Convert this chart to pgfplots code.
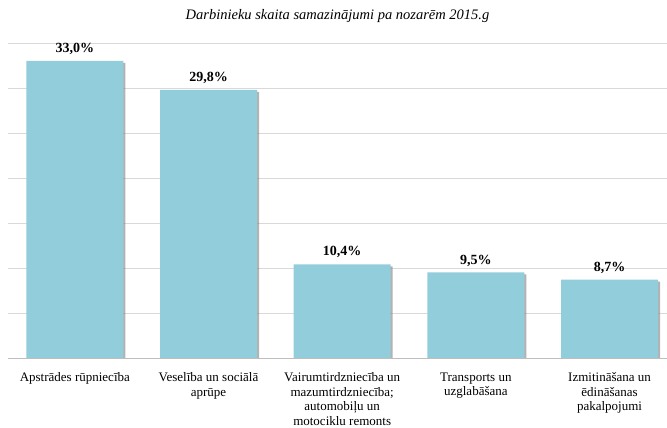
\documentclass[border=0pt]{standalone}
\usepackage{fontspec}
\setmainfont{Liberation Serif}
\usepackage{pgfplots}
\pgfplotsset{compat=1.18}
\usetikzlibrary{shadows}
\definecolor{barblue}{RGB}{146,205,220}
\definecolor{gridgray}{RGB}{217,217,217}
\definecolor{basegray}{RGB}{190,190,190}
\begin{document}
\begin{tikzpicture}
\begin{axis}[
    at={(0,0)}, anchor=south west,
    width=659pt, height=315pt, scale only axis,
    ybar, bar width=97pt,
    xmin=-0.5, xmax=4.43,
    ymin=0, ymax=35,
    ytick={5,10,...,35}, yticklabels={},
    ymajorgrids, grid style={gridgray, line width=0.8pt},
    extra y ticks={0}, extra y tick labels={},
    extra y tick style={grid style={basegray, line width=0.8pt}},
    axis line style={draw=none},
    major tick length=0pt,
    xtick=data,
    xticklabels={
        {Apstrādes rūpniecība},
        {Veselība un sociālā\\aprūpe},
        {Vairumtirdzniecība un\\mazumtirdzniecība;\\automobiļu un\\motociklu remonts},
        {Transports un\\uzglabāšana},
        {Izmitināšana un\\ēdināšanas\\pakalpojumi}},
    xticklabel style={font=\fontsize{13}{14.5}\selectfont, align=center, yshift=-11pt},
    nodes near coords={\pgfmathprintnumber[fixed, fixed zerofill, precision=1, use comma, assume math mode=true]{\pgfplotspointmeta}\%},
    every node near coord/.append style={font=\fontsize{14}{16}\selectfont\bfseries, anchor=center, yshift=12pt},
    title={Darbinieku skaita samazinājumi pa nozarēm 2015.g},
    title style={font=\fontsize{14.5}{16}\selectfont\itshape, at={(0.5,1)}, anchor=center, yshift=21pt},
]
\addplot[fill=barblue, draw=none,
    drop shadow={shadow xshift=2pt, shadow yshift=-2pt, fill=gray, opacity=0.6}]
    coordinates {(0,33.0) (1,29.8) (2,10.4) (3,9.5) (4,8.7)};
\end{axis}
\pgfresetboundingbox
\path (-8pt,-70pt) rectangle (659pt,358pt);
\end{tikzpicture}
\end{document}
